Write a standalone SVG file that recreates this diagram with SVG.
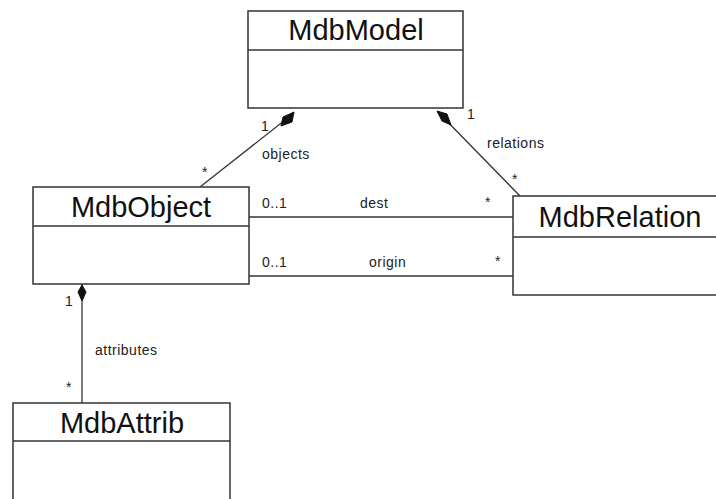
<svg xmlns="http://www.w3.org/2000/svg" width="716" height="499" viewBox="0 0 716 499">
  <defs>
    <style>
      .box { fill: #ffffff; stroke: #333333; stroke-width: 1.5; }
      .div { stroke: #333333; stroke-width: 1.5; }
      .name { font-family: "Liberation Sans", Arial, sans-serif; font-size: 29px; fill: #111111; text-anchor: middle; }
      .lbl { font-family: "Liberation Sans", Arial, sans-serif; font-size: 14px; letter-spacing: 0.5px; fill: #222222; }
      .line { stroke: #333333; stroke-width: 1.3; fill: none; }
      .dia { fill: #111111; stroke: #111111; stroke-width: 1; }
    </style>
  </defs>
  <rect width="716" height="499" fill="#ffffff"/>

  <g id="connectors">
    <!-- MdbModel <>- MdbObject (objects) -->
    <line class="line" x1="200" y1="187" x2="294" y2="113"/>
    <polygon class="dia" points="294,112 292,122 281,126 283,117"/>
    <!-- MdbModel <>- MdbRelation (relations) -->
    <line class="line" x1="520" y1="196" x2="438" y2="112"/>
    <polygon class="dia" points="437,111 447,114 451,125 442,121"/>
    <!-- MdbObject - MdbRelation (dest, origin) -->
    <line class="line" x1="249" y1="217" x2="513" y2="217"/>
    <line class="line" x1="249" y1="276" x2="513" y2="276"/>
    <!-- MdbObject <>- MdbAttrib (attributes) -->
    <line class="line" x1="82" y1="284" x2="82" y2="403"/>
    <polygon class="dia" points="82,285 86,292 82,301 78,292"/>

    <text class="lbl" x="261" y="131">1</text>
    <text class="lbl" x="262" y="159">objects</text>
    <text class="lbl" x="202" y="177">*</text>
    <text class="lbl" x="467" y="119">1</text>
    <text class="lbl" x="487" y="148">relations</text>
    <text class="lbl" x="512" y="184">*</text>
    <text class="lbl" x="262" y="208">0..1</text>
    <text class="lbl" x="360" y="208">dest</text>
    <text class="lbl" x="485" y="207">*</text>
    <text class="lbl" x="262" y="267">0..1</text>
    <text class="lbl" x="369" y="267">origin</text>
    <text class="lbl" x="495" y="266">*</text>
    <text class="lbl" x="65" y="306">1</text>
    <text class="lbl" x="95" y="355">attributes</text>
    <text class="lbl" x="66" y="392">*</text>
  </g>

  <g id="MdbModel">
    <rect class="box" x="248" y="11" width="215" height="97"/>
    <line class="div" x1="248" y1="50" x2="463" y2="50"/>
    <text class="name" x="356" y="40">MdbModel</text>
  </g>

  <g id="MdbObject">
    <rect class="box" x="33" y="187" width="216" height="97"/>
    <line class="div" x1="33" y1="226" x2="249" y2="226"/>
    <text class="name" x="141" y="217">MdbObject</text>
  </g>

  <g id="MdbRelation">
    <rect class="box" x="513" y="196" width="210" height="99"/>
    <line class="div" x1="513" y1="237" x2="723" y2="237"/>
    <text class="name" x="620" y="227">MdbRelation</text>
  </g>

  <g id="MdbAttrib">
    <rect class="box" x="13" y="403" width="217" height="110"/>
    <line class="div" x1="13" y1="441" x2="230" y2="441"/>
    <text class="name" x="122" y="433">MdbAttrib</text>
  </g>
</svg>
